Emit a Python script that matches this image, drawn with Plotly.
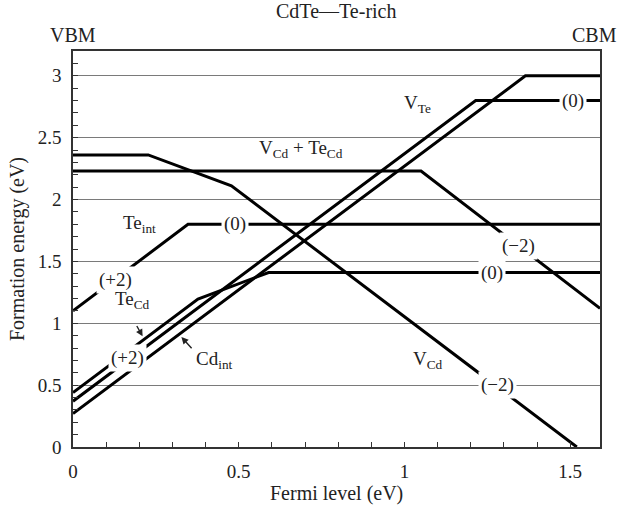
import plotly.graph_objects as go

# Formation energy vs Fermi level, CdTe under Te-rich conditions
fermi_max = 1.59

te_int_x = [0.0, 0.347, 1.59]
te_int_y = [1.10, 1.80, 1.80]

te_cd_x = [0.0, 0.377, 0.59, 1.59]
te_cd_y = [0.44, 1.195, 1.41, 1.41]

v_te_x = [0.0, 1.215, 1.59]
v_te_y = [0.37, 2.80, 2.80]

cd_int_x = [0.0, 1.365, 1.59]
cd_int_y = [0.27, 3.00, 3.00]

v_cd_x = [0.0, 0.227, 0.478, 1.52]
v_cd_y = [2.36, 2.36, 2.11, 0.0]

complex_x = [0.0, 1.05, 1.59]
complex_y = [2.23, 2.23, 1.12]

# (text, x, y, masks lines underneath)
labels = [
    ("V<sub>Te</sub>", 1.04, 2.77, False),
    ("V<sub>Cd</sub> + Te<sub>Cd</sub>", 0.687, 2.41, False),
    ("Te<sub>int</sub>", 0.20, 1.80, False),
    ("(0)", 0.488, 1.80, True),
    ("(+2)", 0.127, 1.353, True),
    ("Te<sub>Cd</sub>", 0.178, 1.19, False),
    ("(+2)", 0.163, 0.72, True),
    ("Cd<sub>int</sub>", 0.428, 0.705, False),
    ("(0)", 1.265, 1.41, True),
    ("(−2)", 1.343, 1.625, True),
    ("V<sub>Cd</sub>", 1.07, 0.705, False),
    ("(−2)", 1.28, 0.50, True),
    ("(0)", 1.509, 2.80, True),
]

# pointer arrows: (head x, head y, tail x, tail y)
pointers = [
    (0.21, 0.894, 0.19, 0.99),
    (0.327, 0.889, 0.362, 0.786),
]

FONT = "Liberation Serif"
INK = "#222222"
LABEL_SIZE = 19
AXIS_SIZE = 20

fig = go.Figure()
for xs, ys, name in [
    (te_int_x, te_int_y, "Te_int"),
    (te_cd_x, te_cd_y, "Te_Cd"),
    (v_te_x, v_te_y, "V_Te"),
    (cd_int_x, cd_int_y, "Cd_int"),
    (v_cd_x, v_cd_y, "V_Cd"),
    (complex_x, complex_y, "V_Cd+Te_Cd"),
]:
    fig.add_trace(go.Scatter(x=xs, y=ys, mode="lines", name=name,
                             line=dict(color="black", width=3),
                             showlegend=False, hoverinfo="skip"))

annotations = []
for text, x, y, mask in labels:
    a = dict(text=text, x=x, y=y, xref="x", yref="y", showarrow=False,
             font=dict(family=FONT, size=LABEL_SIZE, color=INK),
             xanchor="center", yanchor="middle")
    if mask:
        a.update(bgcolor="white", borderpad=2)
    annotations.append(a)

for hx, hy, tx, ty in pointers:
    annotations.append(dict(text="", x=hx, y=hy, ax=tx, ay=ty,
                            xref="x", yref="y", axref="x", ayref="y",
                            showarrow=True, arrowhead=2, arrowsize=1,
                            arrowwidth=1.4, arrowcolor=INK))

annotations += [
    dict(text="CdTe—Te-rich", x=0.5, y=1, xref="paper", yref="paper",
         yshift=40, showarrow=False, xanchor="center", yanchor="middle",
         font=dict(family=FONT, size=AXIS_SIZE, color=INK)),
    dict(text="VBM", x=0, y=1, xref="paper", yref="paper", yshift=16,
         showarrow=False, xanchor="center", yanchor="middle",
         font=dict(family=FONT, size=AXIS_SIZE, color=INK)),
    dict(text="CBM", x=1, y=1, xref="paper", yref="paper", yshift=16,
         xshift=-6, showarrow=False, xanchor="center", yanchor="middle",
         font=dict(family=FONT, size=AXIS_SIZE, color=INK)),
    dict(text="Fermi level (eV)", x=0.5, y=0, xref="paper", yref="paper",
         yshift=-46, showarrow=False, xanchor="center", yanchor="middle",
         font=dict(family=FONT, size=AXIS_SIZE, color=INK)),
    dict(text="Formation energy (eV)", x=0, y=0.5, xref="paper",
         yref="paper", xshift=-56, textangle=-90, showarrow=False,
         xanchor="center", yanchor="middle",
         font=dict(family=FONT, size=AXIS_SIZE, color=INK)),
]

axis_common = dict(
    showline=True, linecolor="#333333", linewidth=1.5, mirror=True,
    ticks="inside", ticklen=5, tickwidth=1, tickcolor="#333333",
    gridcolor="#7a7a7a", gridwidth=1, zeroline=False,
    tickfont=dict(family=FONT, size=LABEL_SIZE, color=INK),
    ticklabelstandoff=6,
    minor=dict(dtick=0.1, ticks="inside", ticklen=5, tickcolor="#333333",
               showgrid=False),
)

fig.update_xaxes(range=[0, fermi_max], dtick=0.5, tick0=0,
                 showgrid=False, **axis_common)
fig.update_yaxes(range=[0, 3.2], dtick=0.5, tick0=0, showgrid=True,
                 **axis_common)

fig.update_layout(
    width=617, height=509,
    margin=dict(l=73, r=17, t=51, b=62),
    paper_bgcolor="white", plot_bgcolor="white",
    annotations=annotations,
    font=dict(family=FONT, color=INK),
)

fig.write_html("out.html")
